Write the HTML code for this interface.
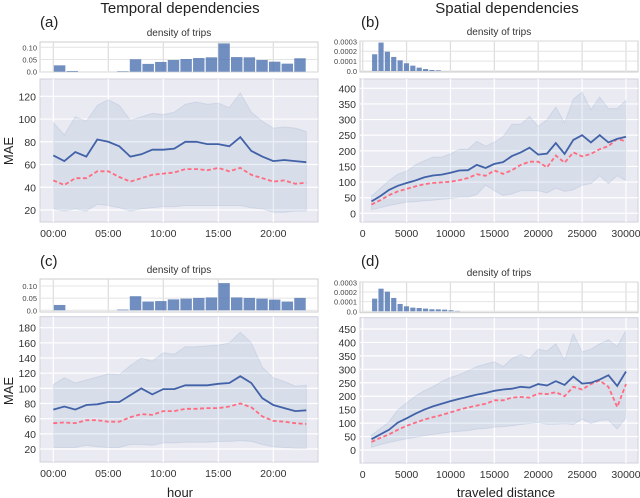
<!DOCTYPE html>
<html><head><meta charset="utf-8">
<style>
html,body{margin:0;padding:0;background:#fff;}
svg{display:block;font-family:"Liberation Sans",sans-serif;}
</style></head>
<body>
<svg id="fig" width="640" height="498" viewBox="0 0 640 498" xmlns="http://www.w3.org/2000/svg">
<text x="180" y="13" font-size="15" text-anchor="middle" fill="#222">Temporal dependencies</text>
<text x="507" y="13" font-size="15" text-anchor="middle" fill="#222">Spatial dependencies</text>
<text x="40" y="27" font-size="15" fill="#222">(a)</text>
<text x="361" y="27" font-size="15" fill="#222">(b)</text>
<text x="40" y="266" font-size="15" fill="#222">(c)</text>
<text x="361" y="266" font-size="15" fill="#222">(d)</text>
<text x="180" y="497" font-size="13" text-anchor="middle" fill="#222">hour</text>
<text x="506" y="497" font-size="13" text-anchor="middle" fill="#222">traveled distance</text>
<text transform="translate(13,151) rotate(-90)" font-size="13" text-anchor="middle" fill="#222">MAE</text>
<text transform="translate(13,391) rotate(-90)" font-size="13" text-anchor="middle" fill="#222">MAE</text>
</svg>
<script>
// ---- data ----
const hours = [0,1,2,3,4,5,6,7,8,9,10,11,12,13,14,15,16,17,18,19,20,21,22,23];
const dists = [1000,2000,3000,4000,5000,6000,7000,8000,9000,10000,11000,12000,13000,14000,15000,16000,17000,18000,19000,20000,21000,22000,23000,24000,25000,26000,27000,28000,29000,30000];

const histA = [0.026,0.003,0,0,0,0.002,0.051,0.032,0.04,0.048,0.052,0.056,0.059,0.116,0.06,0.059,0.048,0.041,0.033,0.055];
const meanA = [68,63,71,67,82,80,76,67,69,73,73,74,80,80,78,78,76,84,72,67,63,64,63,62];
const medA  = [46,42,48,48,54,54,49,45,48,51,52,53,56,56,55,57,54,57,51,48,45,46,43,44];
const upA   = [97,86,102,98,112,117,112,99,102,105,104,106,113,115,113,114,110,123,106,98,92,93,92,89];
const loA   = [21,19,21,19,25,24,22,19,21,22,23,23,24,24,24,24,24,24,22,21,18,18,19,19];

const histB = [0.000169,0.000287,0.000195,0.000142,0.000108,0.000078,0.000054,0.000034,0.00002,0.00001,0.000007];
const meanB = [38,55,75,88,97,105,115,121,124,130,137,138,155,145,158,164,183,195,210,188,191,225,190,235,250,227,250,227,238,245];
const medB  = [28,42,58,70,78,86,93,97,99,101,106,113,125,120,137,126,138,155,165,165,147,185,162,195,182,190,205,215,238,230];
const upB   = [55,80,105,125,135,155,168,180,180,190,205,205,230,215,228,245,285,285,310,278,300,340,290,365,388,332,372,335,335,362];
const loB   = [12,18,25,30,36,37,40,42,45,47,52,52,60,90,72,57,62,72,73,72,65,80,70,75,90,95,120,95,120,105];

const histC = [0.022,0,0,0,0,0.003,0.058,0.036,0.038,0.045,0.048,0.051,0.053,0.112,0.053,0.051,0.048,0.044,0.036,0.051];
const meanC = [72,76,72,78,79,82,82,91,100,92,99,99,104,104,104,106,107,116,107,87,78,74,70,71];
const medC  = [54,55,54,58,58,56,56,62,66,65,70,70,73,73,74,74,76,80,75,63,57,56,54,53];
const upC   = [105,114,107,111,115,119,118,130,140,136,147,145,155,155,156,157,160,174,160,128,114,109,103,104];
const loC   = [22,22,22,25,23,22,22,26,26,25,28,28,29,29,29,30,30,31,30,26,23,22,21,21];

const histD = [0.000131,0.000234,0.000203,0.000138,0.000076,0.000052,0.000038,0.000034,0.000028,0.000021,0.00002,0.000017,0.00001,0.000004];
const meanD = [40,58,75,102,118,135,150,162,172,182,190,198,206,212,220,225,228,235,232,245,240,256,242,273,247,250,262,278,238,292];
const medD  = [30,45,58,75,90,102,113,122,130,140,150,158,165,172,185,185,195,197,195,210,208,215,200,235,225,245,258,235,160,245];
const upD   = [55,80,105,150,175,200,220,235,255,270,280,295,310,320,328,310,340,355,340,375,368,395,335,432,365,375,395,410,385,445];
const loD   = [10,20,28,35,42,47,53,58,62,67,70,72,78,80,85,87,90,95,98,102,96,96,98,95,115,98,110,112,78,120];

const hourTicks = [0,5,10,15,20];
const hourTickLabels = ["00:00","05:00","10:00","15:00","20:00"];
const distTicks = [0,5000,10000,15000,20000,25000,30000];
const distTickLabels = ["0","5000","10000","15000","20000","25000","30000"];
const yTicksA = [20,40,60,80,100,120];
const yTicksB = [0,50,100,150,200,250,300,350,400];
const yTicksC = [20,40,60,80,100,120,140,160,180];
const yTicksD = [0,50,100,150,200,250,300,350,400,450];
const hTicksTime = [0,0.05,0.10];
const hTickLabelsTime = ["0.0","0.05","0.10"];
const hTicksDist = [0,0.0001,0.0002,0.0003];
const hTickLabelsDist = ["0.0","0.0001","0.0002","0.0003"];

// ---- drawing ----
const NS = "http://www.w3.org/2000/svg";
const svg = document.getElementById("fig");
function mk(tag, attrs, parent){
  const e = document.createElementNS(NS, tag);
  for (const k in attrs) e.setAttribute(k, attrs[k]);
  (parent||svg).appendChild(e);
  return e;
}

function panel(p){
  const g = mk("g", {});
  
  
  const sx = v => p.x0 + (v - p.xmin) / (p.xmax - p.xmin) * (p.x1 - p.x0);
  const hy = v => p.hb - v / p.hmax * (p.hb - p.htMax);
  const hb = mk("rect", {x:p.ax0, y:p.hTop, width:p.ax1-p.ax0, height:p.hBot-p.hTop, fill:"#fff", stroke:"#ccc", "stroke-width":1}, g);
  
  
  p.xticks.forEach(t => mk("line", {x1:sx(t), x2:sx(t), y1:p.hTop, y2:p.hBot, stroke:"#ddd", "stroke-width":1.2}, g));
  p.hticks.forEach((t,i) => {
    mk("line", {x1:p.ax0, x2:p.ax1, y1:hy(t), y2:hy(t), stroke:"#e4e4e4", "stroke-width":1}, g);
    const tl = mk("text", {x:p.ax0-3, y:hy(t)+3, "font-size":7.5, "text-anchor":"end", fill:"#444"}, g);
    tl.textContent = p.hlabels[i];
    
    
  });
  p.hist.forEach((v,i) => {
    const a = p.hStart + i*p.hW, b = a + p.hW;
    const r = mk("rect", {x:sx(a)+0.6, y:hy(v), width:Math.max(0,sx(b)-sx(a)-1.2), height:p.hb-hy(v), fill:"#4c72b0", "fill-opacity":0.8}, g);
    
    
  });
  const dt = mk("text", {x:(p.ax0+p.ax1)/2, y:p.hTop-6, "font-size":10, "text-anchor":"middle", fill:"#333"}, g);
  dt.textContent = "density of trips";
  
  

  const sy = v => p.yb - (v - p.ymin) / (p.ymaxT - p.ymin) * (p.yb - p.yt);
  const mb = mk("rect", {x:p.ax0, y:p.mTop, width:p.ax1-p.ax0, height:p.mBot-p.mTop, fill:"#eaeaf2", stroke:"#d0d0dc", "stroke-width":1}, g);
  
  
  p.xticks.forEach((t,i) => {
    mk("line", {x1:sx(t), x2:sx(t), y1:p.mTop, y2:p.mBot, stroke:"#fff", "stroke-width":1.2}, g);
    const tl = mk("text", {x:sx(t), y:p.mBot+15, "font-size":10.5, "text-anchor":"middle", fill:"#333"}, g);
    tl.textContent = p.xlabels[i];
    
    
  });
  p.yticks.forEach(t => {
    mk("line", {x1:p.ax0, x2:p.ax1, y1:sy(t), y2:sy(t), stroke:"#fff", "stroke-width":1.2}, g);
    const tl = mk("text", {x:p.ax0-4, y:sy(t)+4, "font-size":10.5, "text-anchor":"end", fill:"#333"}, g);
    tl.textContent = String(t);
    
    
  });
  let d = "";
  p.xs.forEach((x,i) => d += (i?"L":"M") + sx(x).toFixed(1) + "," + sy(p.up[i]).toFixed(1));
  for (let i = p.xs.length-1; i >= 0; i--) d += "L" + sx(p.xs[i]).toFixed(1) + "," + sy(p.lo[i]).toFixed(1);
  const band = mk("path", {d:d+"Z", fill:"#4c72b0", "fill-opacity":0.11, stroke:"#4c72b0", "stroke-opacity":0.12, "stroke-width":1}, g);
  
  
  const line = (arr, attrs, name) => {
    let s = "";
    p.xs.forEach((x,i) => s += (i?"L":"M") + sx(x).toFixed(1) + "," + sy(arr[i]).toFixed(1));
    attrs.d = s; attrs.fill = "none";
    const e = mk("path", attrs, g);
    
    
  };
  line(p.med, {stroke:"#ff6b7f", "stroke-width":1.8, "stroke-dasharray":"4,2.5"}, "median-line");
  line(p.mean, {stroke:"#4262a8", "stroke-width":1.8}, "mean-line");
}

const L = {ax0:40, ax1:318, x0:53.3, x1:306.3, xmin:0, xmax:23, xticks:hourTicks, xlabels:hourTickLabels, hticks:hTicksTime, hlabels:hTickLabelsTime, hmax:0.10, hStart:0, hW:1.15, xs:hours};
const R = {ax0:360, ax1:638, x0:362.7, x1:626, xmin:0, xmax:30000, xticks:distTicks, xlabels:distTickLabels, hticks:hTicksDist, hlabels:hTickLabelsDist, hmax:0.0003, hStart:1000, hW:725, xs:dists};

panel(Object.assign({}, L, {id:"a", hTop:42, hBot:72, hb:71.7, htMax:47.3, mTop:79, mBot:222, yb:210, yt:96.3, ymin:20, ymaxT:120, yticks:yTicksA, hist:histA, mean:meanA, med:medA, up:upA, lo:loA}));
panel(Object.assign({}, R, {id:"b", hTop:41, hBot:72, hb:71, htMax:41.3, mTop:79, mBot:222, yb:213.3, yt:88.3, ymin:0, ymaxT:400, yticks:yTicksB, hist:histB, mean:meanB, med:medB, up:upB, lo:loB}));
panel(Object.assign({}, L, {id:"c", hTop:279, hBot:312, hb:310.3, htMax:286, mTop:316.7, mBot:462, yb:449, yt:327.7, ymin:20, ymaxT:180, yticks:yTicksC, hist:histC, mean:meanC, med:medC, up:upC, lo:loC}));
panel(Object.assign({}, R, {id:"d", hTop:282, hBot:312.7, hb:311.3, htMax:282.3, mTop:317.7, mBot:463, yb:450, yt:329, ymin:0, ymaxT:450, yticks:yTicksD, hist:histD, mean:meanD, med:medD, up:upD, lo:loD}));
</script>
</body></html>
